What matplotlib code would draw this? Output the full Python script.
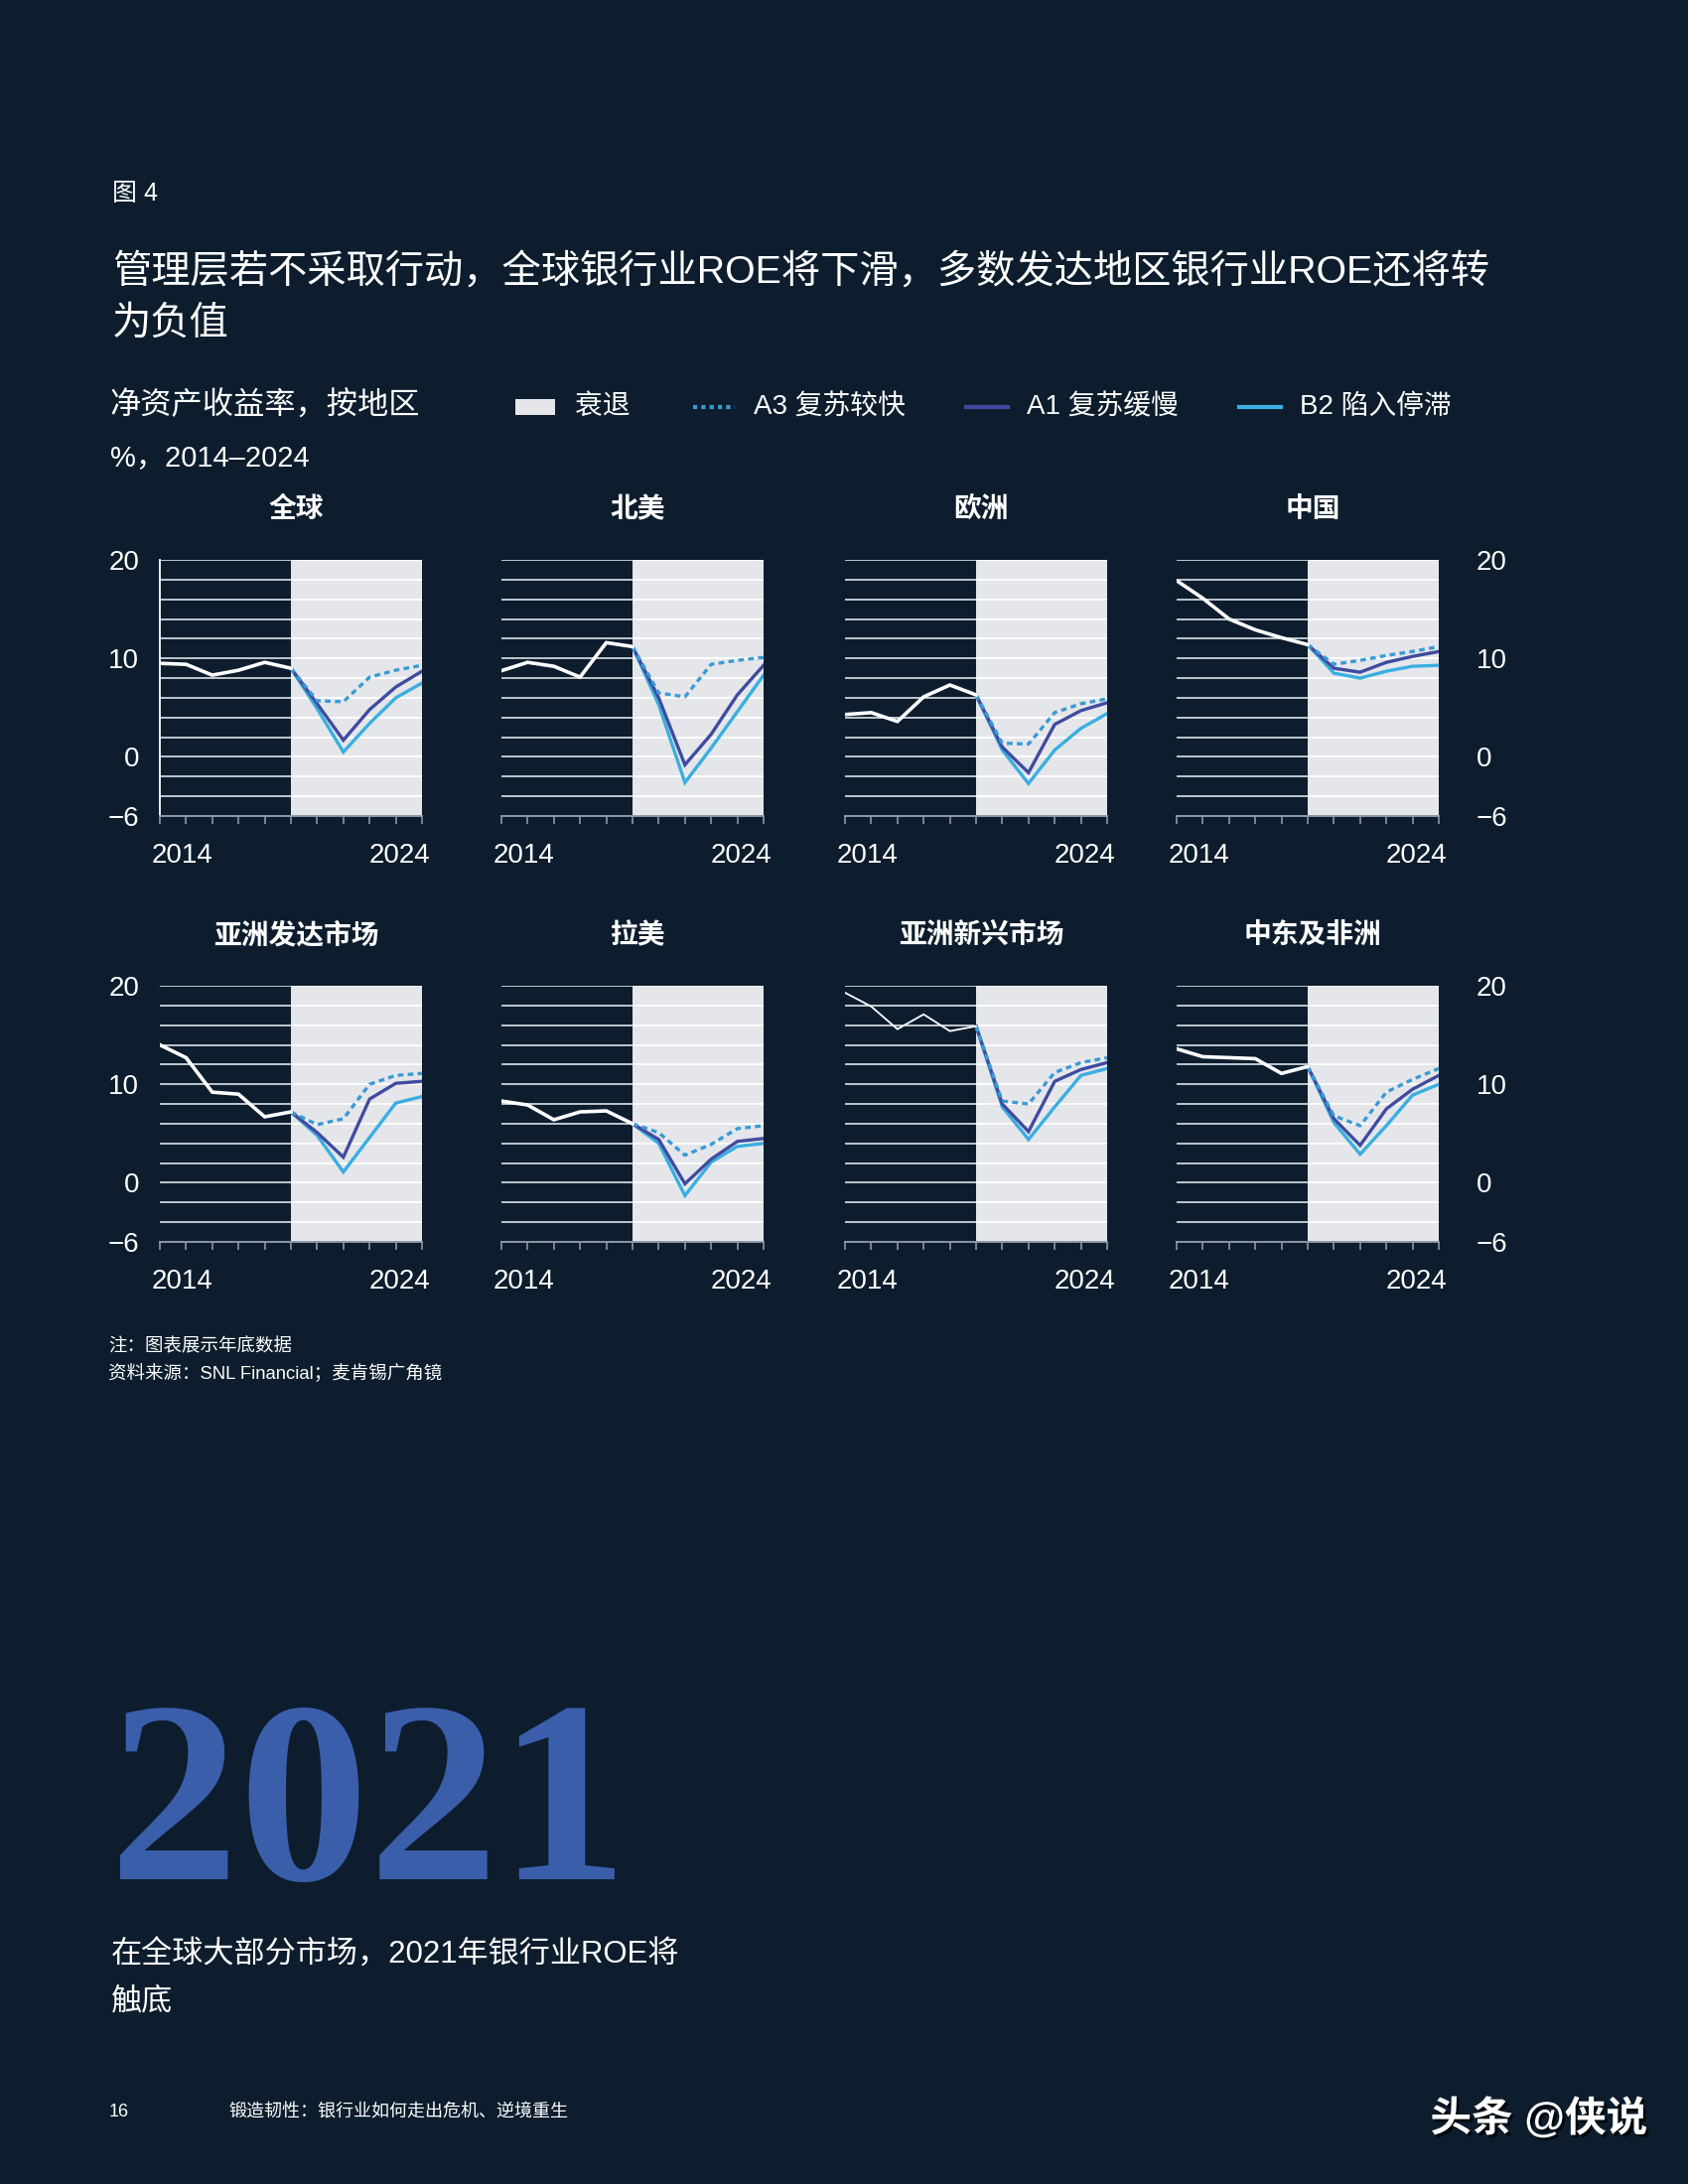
import numpy as np
import matplotlib
matplotlib.use("Agg")
import matplotlib.pyplot as plt
import matplotlib.patheffects as pe
from matplotlib.lines import Line2D
from matplotlib.patches import Rectangle

plt.rcParams['font.family'] = ['Liberation Sans', 'Noto Sans CJK SC', 'DejaVu Sans']

W, H = 1700, 2200
BG = '#0d1d2d'
SHADE = '#e4e6ea'
C_A3 = '#3a9ad4'
C_A1 = '#404b9f'
C_B2 = '#3aaee0'

hist_years = [2014, 2015, 2016, 2017, 2018, 2019]
proj_years = [2019, 2020, 2021, 2022, 2023, 2024]

regions = ['全球', '北美', '欧洲', '中国', '亚洲发达市场', '拉美', '亚洲新兴市场', '中东及非洲']

# ROE %, year end, 2014-2019
hist = [
    [9.5, 9.4, 8.3, 8.8, 9.6, 9.0],
    [8.75, 9.6, 9.2, 8.1, 11.6, 11.2],
    [4.3, 4.5, 3.6, 6.1, 7.3, 6.3],
    [17.9, 16.1, 14.0, 12.9, 12.1, 11.4],
    [14.0, 12.7, 9.2, 9.0, 6.7, 7.2],
    [8.3, 7.9, 6.4, 7.2, 7.3, 6.0],
    [19.3, 17.9, 15.6, 17.1, 15.4, 15.9],
    [13.6, 12.8, 12.7, 12.6, 11.1, 11.8],
]
# scenarios 2020-2024
a3 = [
    [5.7, 5.6, 8.1, 8.8, 9.3],
    [6.5, 6.1, 9.4, 9.8, 10.1],
    [1.4, 1.3, 4.5, 5.4, 5.9],
    [9.4, 9.8, 10.3, 10.7, 11.2],
    [5.9, 6.5, 10.0, 10.9, 11.1],
    [5.1, 2.8, 3.9, 5.5, 5.8],
    [8.3, 8.0, 11.2, 12.2, 12.7],
    [6.8, 5.8, 9.2, 10.5, 11.6],
]
a1 = [
    [5.4, 1.7, 4.8, 7.1, 8.7],
    [6.0, -0.8, 2.3, 6.3, 9.3],
    [1.0, -1.6, 3.3, 4.7, 5.5],
    [9.0, 8.6, 9.6, 10.2, 10.7],
    [5.1, 2.6, 8.5, 10.1, 10.3],
    [4.4, -0.1, 2.4, 4.2, 4.5],
    [8.0, 5.2, 10.3, 11.5, 12.2],
    [6.5, 3.8, 7.5, 9.5, 10.9],
]
b2 = [
    [4.9, 0.5, 3.4, 6.0, 7.5],
    [5.3, -2.6, 0.9, 4.6, 8.3],
    [0.7, -2.7, 0.7, 2.9, 4.4],
    [8.5, 8.0, 8.7, 9.2, 9.3],
    [4.8, 1.1, 4.6, 8.1, 8.75],
    [4.0, -1.3, 2.1, 3.7, 4.0],
    [7.7, 4.4, 7.7, 10.9, 11.6],
    [6.1, 2.9, 5.8, 8.9, 10.0],
]

grid_levels = np.arange(-6, 21, 2)
ytick_vals = [20, 10, 0, -6]
ytick_labels = ['20', '10', '0', '\u22126']

fig = plt.figure(figsize=(17, 22), dpi=100)
fig.patch.set_facecolor(BG)


def fx(x):
    return x / W


def fy(y):
    return 1 - y / H


def ftext(x, y, s, **kw):
    kw.setdefault('color', 'white')
    kw.setdefault('va', 'center')
    fig.text(fx(x), fy(y), s, **kw)


# header
ftext(113, 195, '图 4', fontsize=18)
ftext(113, 275, '管理层若不采取行动，全球银行业ROE将下滑，多数发达地区银行业ROE还将转', fontsize=28.3)
ftext(113, 326, '为负值', fontsize=28.3)
ftext(111, 410, '净资产收益率，按地区', fontsize=22.5)
ftext(111, 461, '%，2014–2024', fontsize=21)

# legend
fig.add_artist(Rectangle((fx(519), fy(418)), fx(40), 16 / H, transform=fig.transFigure,
                         facecolor=SHADE, edgecolor='none'))
ftext(579, 410, '衰退', fontsize=20)
fig.add_artist(Line2D([fx(698), fx(740)], [fy(410), fy(410)], transform=fig.transFigure,
                      color=C_A3, lw=3, linestyle=(0, (1, 1))))
ftext(759, 410, 'A3 复苏较快', fontsize=20)
fig.add_artist(Line2D([fx(973), fx(1015)], [fy(410), fy(410)], transform=fig.transFigure,
                      color=C_A1, lw=3))
ftext(1034, 410, 'A1 复苏缓慢', fontsize=20)
fig.add_artist(Line2D([fx(1248), fx(1290)], [fy(410), fy(410)], transform=fig.transFigure,
                      color=C_B2, lw=3))
ftext(1309, 410, 'B2 陷入停滞', fontsize=20)

lefts = [161, 505, 851, 1185]
tops = [564, 993]
aw, ah = 264, 258
title_y = [514, 943]

for i, name in enumerate(regions):
    r, c = divmod(i, 4)
    ax = fig.add_axes([fx(lefts[c]), fy(tops[r] + ah), aw / W, ah / H])
    ax.set_facecolor(BG)
    ax.axvspan(2019, 2024, color=SHADE, zorder=0, lw=0)
    ax.hlines(grid_levels[1:], 2014, 2019, color='#cdd3da', lw=1.3, zorder=1)
    ax.hlines(grid_levels[1:], 2019, 2024, color='white', lw=1.3, zorder=1)

    pre = [hist[i][-1]]
    ax.plot(proj_years, pre + b2[i], color=C_B2, lw=2.4, zorder=3, solid_joinstyle='miter')
    ax.plot(proj_years, pre + a1[i], color=C_A1, lw=2.4, zorder=4, solid_joinstyle='miter')
    ax.plot(proj_years, pre + a3[i], color=C_A3, lw=2.4, zorder=5, linestyle=(0, (1.7, 1.3)))
    ax.plot(hist_years, hist[i], color='white', lw=1.3 if i == 6 else 2.6, zorder=6,
            solid_joinstyle='miter')

    ax.set_xlim(2014, 2024)
    ax.set_ylim(-6, 20)
    ax.set_xticks(range(2014, 2025))
    ax.set_xticklabels([])
    ax.tick_params(axis='x', direction='out', length=6, width=1.2, color='#8d97a5')
    for s in ['top', 'right', 'left']:
        ax.spines[s].set_visible(False)
    ax.spines['bottom'].set_color('#8d97a5')
    ax.spines['bottom'].set_linewidth(1.4)
    if i == 0:
        ax.spines['left'].set_visible(True)
        ax.spines['left'].set_color('white')
        ax.spines['left'].set_linewidth(1.3)

    ax.set_yticks(ytick_vals)
    if c == 0:
        ax.set_yticklabels(ytick_labels, fontsize=20, color='white')
        ax.tick_params(axis='y', length=0, pad=15)
    elif c == 3:
        ax.yaxis.tick_right()
        ax.set_yticklabels(ytick_labels, fontsize=20, color='white')
        ax.tick_params(axis='y', length=0, pad=27)
    else:
        ax.set_yticklabels([])
        ax.tick_params(axis='y', length=0)

    ax.text(-0.03, -0.155, '2014', transform=ax.transAxes, fontsize=20, color='white',
            ha='left', va='center')
    ax.text(1.03, -0.155, '2024', transform=ax.transAxes, fontsize=20, color='white',
            ha='right', va='center')
    ax.text(0.52, (ah + tops[r] - title_y[r]) / ah, name, transform=ax.transAxes,
            fontsize=20, fontweight='bold', color='white', ha='center', va='center')

# notes
ftext(109, 1357, '注：图表展示年底数据', fontsize=13.3)
ftext(109, 1384, '资料来源：SNL Financial；麦肯锡广角镜', fontsize=13.3)

# big number
fig.text(fx(110), fy(1893), '2021', fontsize=188, color='#3b5eab', ha='left', va='baseline',
         family=['Liberation Serif', 'DejaVu Serif'], fontweight='bold')
ftext(112, 1970, '在全球大部分市场，2021年银行业ROE将', fontsize=22.4)
ftext(112, 2017, '触底', fontsize=22.4)

# footer
ftext(110, 2128, '16', fontsize=13)
ftext(230, 2128, '锻造韧性：银行业如何走出危机、逆境重生', fontsize=13)
fig.text(fx(1659), fy(2135), '头条 @侠说', fontsize=30, fontweight='bold', color='white',
         ha='right', va='center',
         path_effects=[pe.withSimplePatchShadow(offset=(2, -2), shadow_rgbFace='black', alpha=0.7)])

fig.savefig('out.png', dpi=100, facecolor=BG)
